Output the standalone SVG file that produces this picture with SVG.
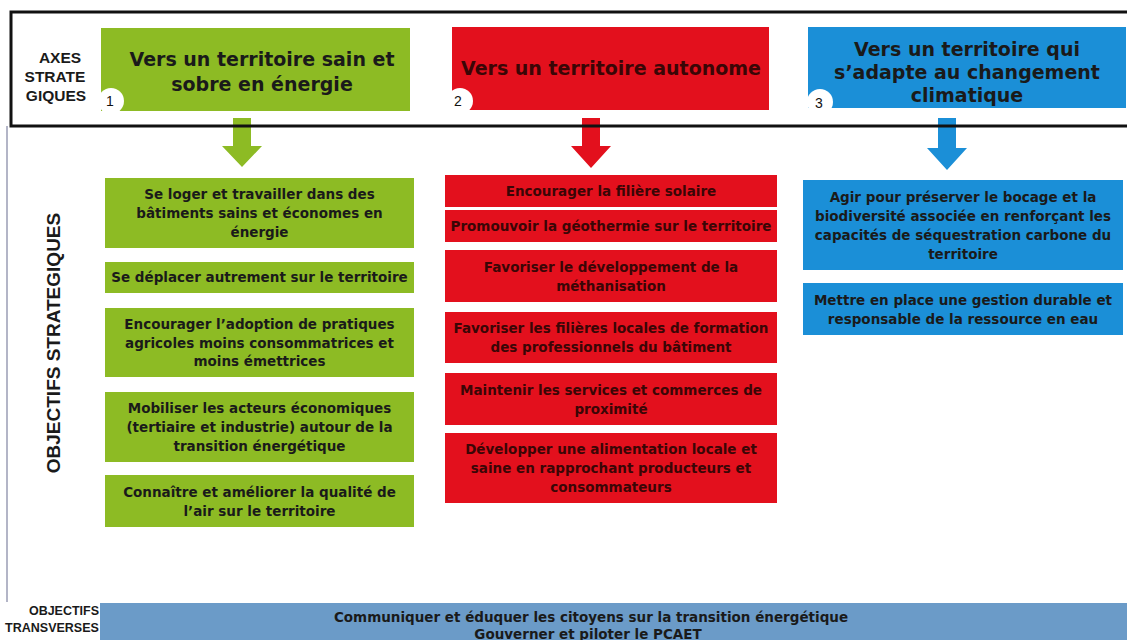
<svg xmlns="http://www.w3.org/2000/svg" width="1127" height="640" viewBox="0 0 1127 640">
<style>
.lbl{font-family:"Liberation Sans",Arial,sans-serif;font-weight:bold;fill:#1a1a1a;text-anchor:middle}
.hd{font-family:"DejaVu Sans",Verdana,sans-serif;font-weight:bold;font-size:19px;fill:#1a1a1a;text-anchor:middle}
.bx{font-family:"DejaVu Sans",Verdana,sans-serif;font-weight:bold;font-size:13.5px;fill:#1a1a1a;text-anchor:middle}
.rt{fill:#3a0606}
.num{font-family:"Liberation Sans",Arial,sans-serif;font-size:14px;fill:#111;text-anchor:middle}
.g{fill:#8dbb24}.r{fill:#e3101d}.b{fill:#1b8fd7}
</style>
<rect width="1127" height="640" fill="#ffffff"/>
<line x1="7" y1="126" x2="7" y2="602" stroke="#9a9cb4" stroke-width="1.5"/>
<g id="axes-label">
<text class="lbl" font-size="15.5" x="60" y="63">AXES</text>
<text class="lbl" font-size="15.5" x="55" y="82">STRATE</text>
<text class="lbl" font-size="15.5" x="56" y="101">GIQUES</text>
</g>
<g id="connectors">
<path class="g" d="M233 118 H251 V146 H262 L242 167 L222 146 H233 Z"/>
<path class="r" d="M582 118 H600 V146 H611 L591 168 L571 146 H582 Z"/>
<path class="b" d="M938 118 H956 V148 H967 L947 170 L927 148 H938 Z"/>
</g>
<rect x="11" y="12" width="1125" height="114" fill="none" stroke="#111" stroke-width="3"/>
<g id="axe1">
<rect class="g" x="101" y="28" width="309" height="83"/>
<circle cx="111" cy="101" r="13" fill="#fff"/>
<text class="num" x="110" y="106">1</text>
<text class="hd" x="262" y="66">Vers un territoire sain et</text>
<text class="hd" x="262" y="91">sobre en énergie</text>
</g>
<g id="axe2">
<rect class="r" x="452" y="27" width="317" height="83"/>
<circle cx="460" cy="101" r="13" fill="#fff"/>
<text class="num" x="458" y="106">2</text>
<text class="hd rt" x="611" y="75">Vers un territoire autonome</text>
</g>
<g id="axe3">
<rect class="b" x="808" y="27" width="318" height="81"/>
<circle cx="820" cy="102" r="13" fill="#fff"/>
<text class="num" x="819" y="108">3</text>
<text class="hd" x="967" y="56">Vers un territoire qui</text>
<text class="hd" x="967" y="79">s’adapte au changement</text>
<text class="hd" x="967" y="102">climatique</text>
</g>
<g id="vertical-label">
<text class="lbl" font-size="19" transform="translate(60 343) rotate(-90)">OBJECTIFS STRATEGIQUES</text>
</g>
<g id="g1"><rect class="g" x="105" y="178" width="309" height="70"/>
<text class="bx" x="259.5" y="199">Se loger et travailler dans des</text>
<text class="bx" x="259.5" y="218">bâtiments sains et économes en</text>
<text class="bx" x="259.5" y="237">énergie</text></g>
<g id="g2"><rect class="g" x="105" y="262" width="309" height="31"/>
<text class="bx" x="259.5" y="282">Se déplacer autrement sur le territoire</text></g>
<g id="g3"><rect class="g" x="105" y="308" width="309" height="69"/>
<text class="bx" x="259.5" y="329">Encourager l’adoption de pratiques</text>
<text class="bx" x="259.5" y="347.5">agricoles moins consommatrices et</text>
<text class="bx" x="259.5" y="366">moins émettrices</text></g>
<g id="g4"><rect class="g" x="105" y="392" width="309" height="70"/>
<text class="bx" x="259.5" y="413">Mobiliser les acteurs économiques</text>
<text class="bx" x="259.5" y="432">(tertiaire et industrie) autour de la</text>
<text class="bx" x="259.5" y="451">transition énergétique</text></g>
<g id="g5"><rect class="g" x="105" y="475" width="309" height="52"/>
<text class="bx" x="259.5" y="496.5">Connaître et améliorer la qualité de</text>
<text class="bx" x="259.5" y="515.5">l’air sur le territoire</text></g>
<g id="r1"><rect class="r" x="445" y="175" width="332" height="32"/>
<text class="bx rt" x="611" y="196">Encourager la filière solaire</text></g>
<g id="r2"><rect class="r" x="445" y="210" width="332" height="32"/>
<text class="bx rt" x="611" y="231">Promouvoir la géothermie sur le territoire</text></g>
<g id="r3"><rect class="r" x="445" y="250" width="332" height="52"/>
<text class="bx rt" x="611" y="271.5">Favoriser le développement de la</text>
<text class="bx rt" x="611" y="290.5">méthanisation</text></g>
<g id="r4"><rect class="r" x="445" y="312" width="332" height="51"/>
<text class="bx rt" x="611" y="333">Favoriser les filières locales de formation</text>
<text class="bx rt" x="611" y="352">des professionnels du bâtiment</text></g>
<g id="r5"><rect class="r" x="445" y="373" width="332" height="52"/>
<text class="bx rt" x="611" y="394.5">Maintenir les services et commerces de</text>
<text class="bx rt" x="611" y="413.5">proximité</text></g>
<g id="r6"><rect class="r" x="445" y="433" width="332" height="70"/>
<text class="bx rt" x="611" y="454">Développer une alimentation locale et</text>
<text class="bx rt" x="611" y="473">saine en rapprochant producteurs et</text>
<text class="bx rt" x="611" y="492">consommateurs</text></g>
<g id="b1"><rect class="b" x="803" y="180" width="320" height="90"/>
<text class="bx" x="963" y="201.5">Agir pour préserver le bocage et la</text>
<text class="bx" x="963" y="220.5">biodiversité associée en renforçant les</text>
<text class="bx" x="963" y="239.5">capacités de séquestration carbone du</text>
<text class="bx" x="963" y="258.5">territoire</text></g>
<g id="b2"><rect class="b" x="803" y="283" width="320" height="52"/>
<text class="bx" x="963" y="304.5">Mettre en place une gestion durable et</text>
<text class="bx" x="963" y="323.5">responsable de la ressource en eau</text></g>
<g id="transverse-label">
<text class="lbl" font-size="12.5" x="64" y="615">OBJECTIFS</text>
<text class="lbl" font-size="12.5" x="52" y="632">TRANSVERSES</text>
</g>
<g id="transverse">
<rect x="100" y="603" width="1027" height="37" fill="#6b9bc8"/>
<text class="bx" font-size="12.5" x="591" y="622">Communiquer et éduquer les citoyens sur la transition énergétique</text>
<text class="bx" font-size="12.5" x="588" y="639">Gouverner et piloter le PCAET</text>
</g>
</svg>
